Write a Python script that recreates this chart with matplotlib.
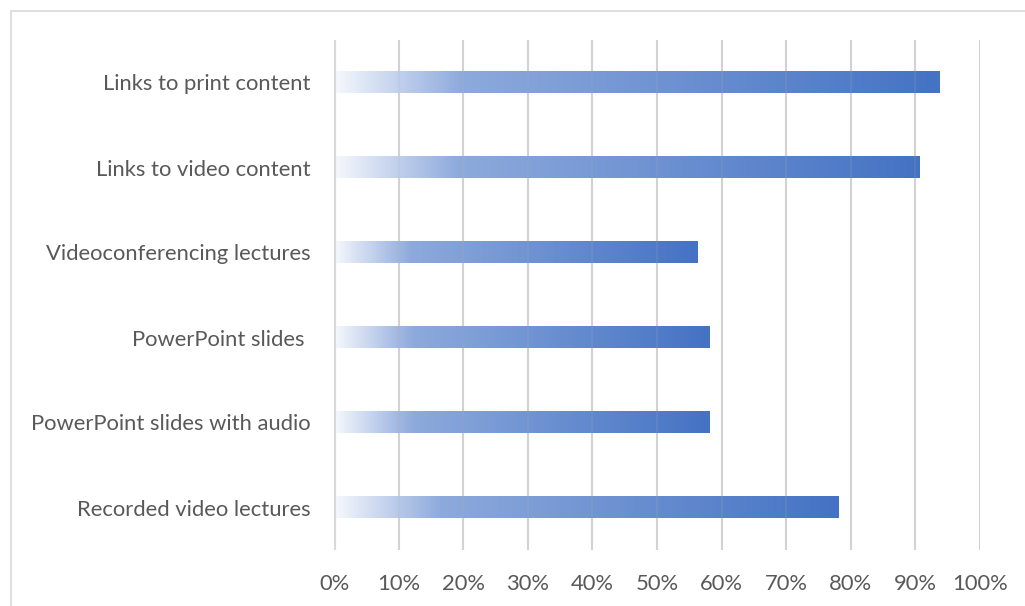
import numpy as np
import matplotlib
matplotlib.use("Agg")
import matplotlib.pyplot as plt
from matplotlib.colors import LinearSegmentedColormap
from matplotlib.patches import Rectangle

categories = ["Recorded video lectures", "PowerPoint slides with audio", "PowerPoint slides ",
              "Videoconferencing lectures", "Links to video content", "Links to print content"]
values = [0.781, 0.582, 0.582, 0.563, 0.907, 0.938]
xticks = [0.0, 0.1, 0.2, 0.3, 0.4, 0.5, 0.6, 0.7, 0.8, 0.9, 1.0]
xticklabels = ["0%", "10%", "20%", "30%", "40%", "50%", "60%", "70%", "80%", "90%", "100%"]

plt.rcParams['font.family'] = ['Lato', 'DejaVu Sans']

W, H = 1025, 606
fig = plt.figure(figsize=(W / 100, H / 100), dpi=100)
ax = fig.add_axes([334 / W, 1 - 550 / H, (980 - 334) / W, (550 - 40) / H])

cmap = LinearSegmentedColormap.from_list(
    "grad", [(0.0, "#f6f8fd"), (0.21, "#8eaadc"), (1.0, "#4472c4")])
grad = np.linspace(0, 1, 512).reshape(1, -1)

bar_h = 0.25
for i, v in enumerate(values):
    ax.imshow(grad, cmap=cmap, aspect="auto", extent=[0, v, i - bar_h / 2, i + bar_h / 2],
              interpolation="bilinear", zorder=2)

ax.set_xlim(0, 1.0)
ax.set_ylim(-0.5, len(categories) - 0.5)

for t in xticks[1:]:
    ax.axvline(t, color="#d9d9d9", lw=1.5, zorder=1)
    ax.axvline(t, color="#b0b0b0", lw=1.5, alpha=0.15, zorder=3)
ax.axvline(0, color="#d9d9d9", lw=3, zorder=3)

for s in ax.spines.values():
    s.set_visible(False)

ax.set_xticks(xticks)
ax.set_xticklabels(xticklabels, fontsize=15.8, color="#595959")
ax.set_yticks(range(len(categories)))
ax.set_yticklabels(categories, fontsize=15.8, color="#595959")
ax.tick_params(axis="x", length=0, pad=17.3)
ax.tick_params(axis="y", length=0, pad=17)

fig.patches.append(Rectangle((11 / W, -0.05), 1.1, 1 - 11 / H + 0.05, transform=fig.transFigure,
                             fill=False, edgecolor="#d9d9d9", lw=1.2))

fig.savefig("out.png", dpi=100)
